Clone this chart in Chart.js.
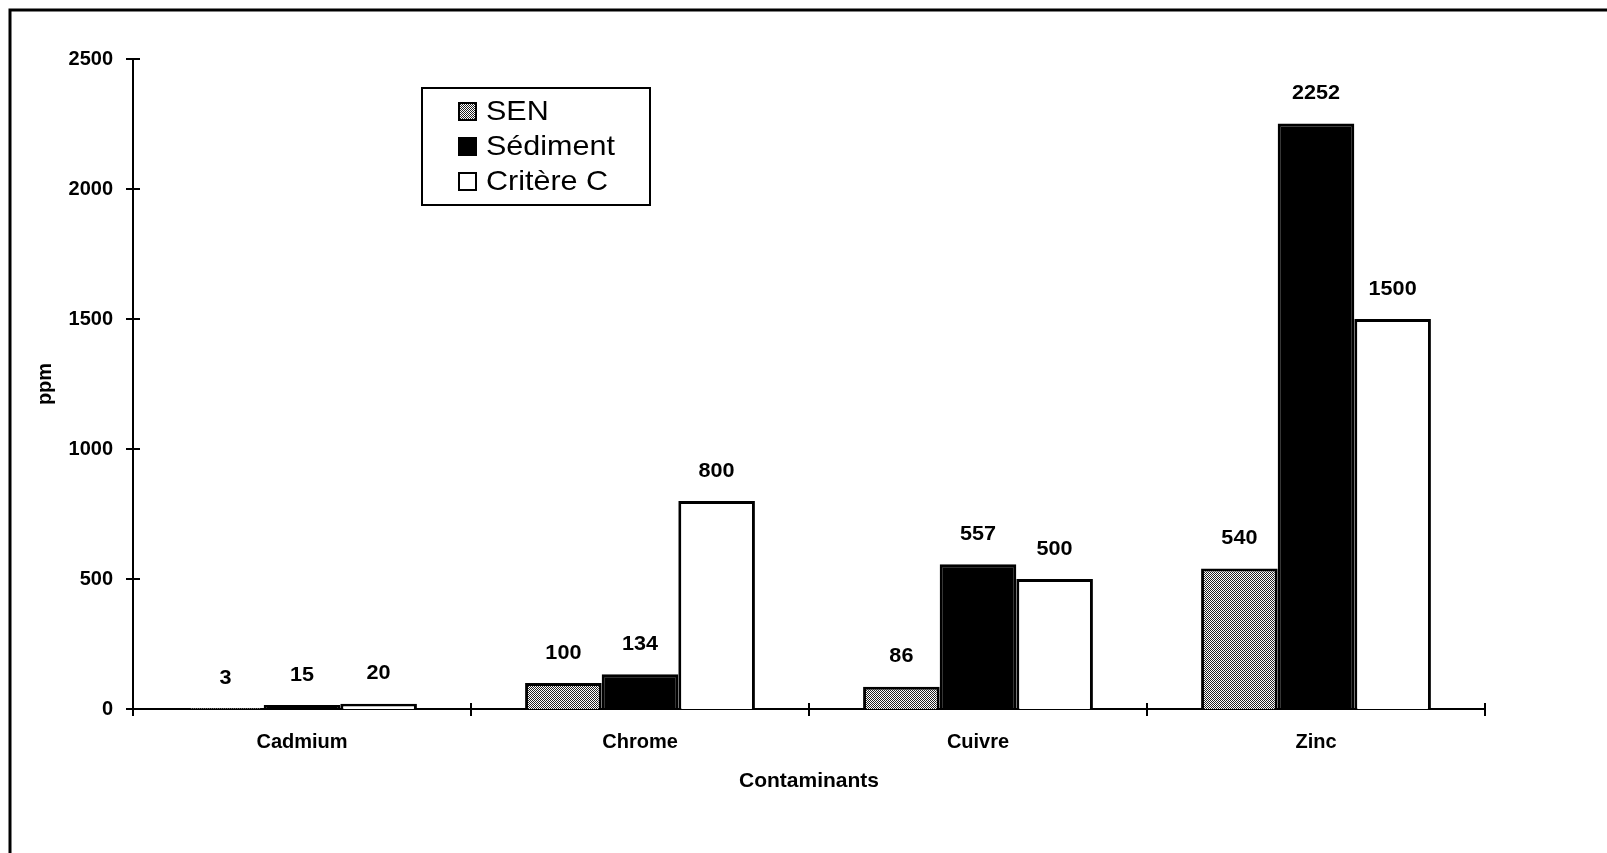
<!DOCTYPE html>
<html>
<head>
<meta charset="utf-8">
<script src="https://cdn.jsdelivr.net/npm/chart.js@4/dist/chart.umd.min.js"></script>
<style>
  body { margin: 0; background: #fff; }
  canvas { display: block; }
</style>
</head>
<body>
<canvas id="myChart" width="1607" height="853"></canvas>
<script>
var categories = ['Cadmium', 'Chrome', 'Cuivre', 'Zinc'];
var seriesNames = ['SEN', 'Sédiment', 'Critère C'];
var senValues = [3, 100, 86, 540];
var sedimentValues = [15, 134, 557, 2252];
var critereValues = [20, 800, 500, 1500];
var yTickValues = [0, 500, 1000, 1500, 2000, 2500];

var fontFamily = '"Liberation Sans", Arial, Helvetica, sans-serif';

// grey dotted fill used for the SEN bars
var patCanvas = document.createElement('canvas');
patCanvas.width = 4;
patCanvas.height = 4;
var pctx = patCanvas.getContext('2d');
pctx.fillStyle = '#fff';
pctx.fillRect(0, 0, 4, 4);
pctx.fillStyle = '#222';
for (var px = 0; px < 4; px++) {
    for (var py = 0; py < 4; py++) {
        if ((px + py) % 2 === 0) pctx.fillRect(px, py, 1, 1);
    }
}
var senPattern = pctx.createPattern(patCanvas, 'repeat');

var framePlugin = {
    id: 'frame',
    beforeDraw: function(chart) {
        var c = chart.ctx;
        c.save();
        c.fillStyle = '#fff';
        c.fillRect(0, 0, chart.width, chart.height);
        c.strokeStyle = '#000';
        c.lineWidth = 3;
        c.beginPath();
        c.moveTo(10, 853);
        c.lineTo(10, 10);
        c.lineTo(1607, 10);
        c.stroke();
        c.restore();
    }
};

var crossTicksPlugin = {
    id: 'crossTicks',
    afterDraw: function(chart) {
        var c = chart.ctx;
        var xs = chart.scales.x, ys = chart.scales.y;
        c.save();
        c.strokeStyle = '#000';
        c.lineWidth = 2;
        c.beginPath();
        for (var i = 0; i < ys.ticks.length; i++) {
            var y = ys.getPixelForTick(i);
            c.moveTo(ys.right - 7, y);
            c.lineTo(ys.right + 7, y);
        }
        var step = xs.width / categories.length;
        for (var j = 0; j <= categories.length; j++) {
            var x = xs.left + j * step;
            c.moveTo(x, xs.top - 6);
            c.lineTo(x, xs.top + 7);
        }
        c.stroke();
        c.restore();
    }
};

var valueLabelsPlugin = {
    id: 'valueLabels',
    afterDatasetsDraw: function(chart) {
        var c = chart.ctx;
        c.save();
        c.fillStyle = '#000';
        c.font = 'bold 20px ' + fontFamily;
        c.textAlign = 'center';
        c.textBaseline = 'middle';
        chart.data.datasets.forEach(function(ds, di) {
            chart.getDatasetMeta(di).data.forEach(function(bar, i) {
                c.save();
                c.translate(bar.x, bar.y - 30);
                c.scale(1.08, 1);
                c.fillText(String(ds.data[i]), 0, 0);
                c.restore();
            });
        });
        c.restore();
    }
};

var boxLegendPlugin = {
    id: 'boxLegend',
    afterDraw: function(chart) {
        var c = chart.ctx;
        c.save();
        c.fillStyle = '#fff';
        c.fillRect(422, 88, 228, 117);
        c.strokeStyle = '#000';
        c.lineWidth = 2;
        c.strokeRect(422, 88, 228, 117);
        c.font = '28px ' + fontFamily;
        c.textBaseline = 'middle';
        c.textAlign = 'left';
        chart.data.datasets.forEach(function(ds, i) {
            var cy = 111 + i * 35;
            c.fillStyle = ds.backgroundColor;
            c.fillRect(459, cy - 8, 17, 17);
            c.lineWidth = 2;
            c.strokeStyle = '#000';
            c.strokeRect(459, cy - 8, 17, 17);
            c.fillStyle = '#000';
            c.save();
            c.translate(486, cy + 1);
            c.scale(1.09, 1);
            c.fillText(ds.label, 0, 0);
            c.restore();
        });
        c.restore();
    }
};

var ctx = document.getElementById('myChart').getContext('2d');
var myChart = new Chart(ctx, {
    type: 'bar',
    data: {
        labels: categories,
        datasets: [{
            label: seriesNames[0],
            data: senValues,
            backgroundColor: senPattern,
            borderColor: '#000',
            borderWidth: 3
        }, {
            label: seriesNames[1],
            data: sedimentValues,
            backgroundColor: '#000',
            borderColor: '#000',
            borderWidth: 3
        }, {
            label: seriesNames[2],
            data: critereValues,
            backgroundColor: '#fff',
            borderColor: '#000',
            borderWidth: 3
        }]
    },
    options: {
        responsive: false,
        devicePixelRatio: 1,
        animation: false,
        events: [],
        layout: { padding: { left: 0, top: 59, right: 122, bottom: 0 } },
        datasets: {
            bar: { categoryPercentage: 0.68, barPercentage: 1.0, borderSkipped: 'start' }
        },
        plugins: {
            legend: { display: false },
            tooltip: { enabled: false }
        },
        scales: {
            x: {
                afterFit: function(scale) { scale.height = 144; },
                grid: { display: false, drawTicks: false },
                border: { display: true, color: '#000', width: 2 },
                ticks: {
                    color: '#000',
                    padding: 21,
                    font: { family: fontFamily, size: 20, weight: 'bold' }
                },
                title: {
                    display: true,
                    text: 'Contaminants',
                    color: '#000',
                    padding: { top: 0, bottom: 59 },
                    font: { family: fontFamily, size: 21, weight: 'bold' }
                }
            },
            y: {
                min: 0,
                max: 2500,
                afterFit: function(scale) { scale.width = 133; },
                afterBuildTicks: function(scale) {
                    scale.ticks = yTickValues.map(function(v) { return { value: v }; });
                },
                grid: { display: false, drawTicks: false },
                border: { display: true, color: '#000', width: 2 },
                ticks: {
                    color: '#000',
                    padding: 20,
                    font: { family: fontFamily, size: 20, weight: 'bold' },
                    callback: function(value) { return String(value); }
                },
                title: {
                    display: true,
                    text: 'ppm',
                    color: '#000',
                    padding: { top: 33, bottom: 0 },
                    font: { family: fontFamily, size: 20, weight: 'bold' }
                }
            }
        }
    },
    plugins: [framePlugin, crossTicksPlugin, valueLabelsPlugin, boxLegendPlugin]
});
</script>
</body>
</html>
